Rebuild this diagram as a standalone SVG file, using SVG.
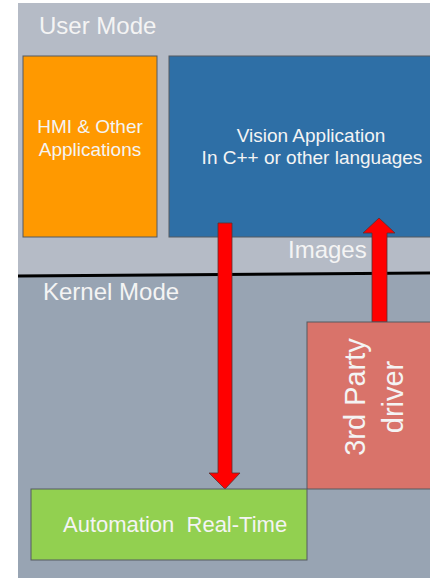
<svg xmlns="http://www.w3.org/2000/svg" width="430" height="578" viewBox="0 0 430 578">
<style>
.t{font-family:"Liberation Sans",Arial,sans-serif;fill:#f4f4f4}
.box{stroke:#555a60;stroke-width:1}
.arr{fill:#ff0000;stroke:#5a3030;stroke-width:0.8}
</style>
<rect x="0" y="0" width="430" height="578" fill="#ffffff"/>
<g id="user-mode">
<rect x="18" y="3" width="412" height="272" fill="#b5bbc6"/>
<text class="t" x="39" y="34" font-size="24">User Mode</text>
</g>
<g id="kernel-mode">
<rect x="18" y="275" width="412" height="303" fill="#98a4b3"/>
<text class="t" x="43" y="300" font-size="24">Kernel Mode</text>
</g>
<line x1="18" y1="276" x2="430" y2="273" stroke="#000" stroke-width="3"/>
<g id="hmi">
<rect class="box" x="23" y="56" width="134" height="181" fill="#ff9900"/>
<text class="t" x="90" y="133" font-size="19" text-anchor="middle">HMI &amp; Other</text>
<text class="t" x="90" y="156" font-size="19" text-anchor="middle">Applications</text>
</g>
<g id="vision">
<rect class="box" x="169" y="56" width="265" height="181" fill="#2e6fa6"/>
<text class="t" x="311" y="142" font-size="19" text-anchor="middle">Vision Application</text>
<text class="t" x="312" y="164" font-size="19" text-anchor="middle">In C++ or other languages</text>
</g>
<g id="images-label">
<text class="t" x="288" y="258" font-size="24">Images</text>
</g>
<g id="connectors">
<polygon class="arr" points="218,223 232,223 232,473 240,473 225,489 209,473 218,473"/>
<polygon class="arr" points="372,322 387,322 387,233 395,233 379,218 363,233 372,233"/>
</g>
<g id="driver">
<rect class="box" x="307" y="322" width="127" height="167" fill="#d9736a"/>
<text class="t" font-size="29" text-anchor="middle" transform="translate(365,397) rotate(-90)">3rd Party</text>
<text class="t" font-size="29" text-anchor="middle" transform="translate(403,397) rotate(-90)">driver</text>
</g>
<g id="automation">
<rect class="box" x="31" y="489" width="276" height="71" fill="#92d050"/>
<text class="t" x="63" y="532" font-size="22" xml:space="preserve">Automation  Real-Time</text>
</g>
</svg>
